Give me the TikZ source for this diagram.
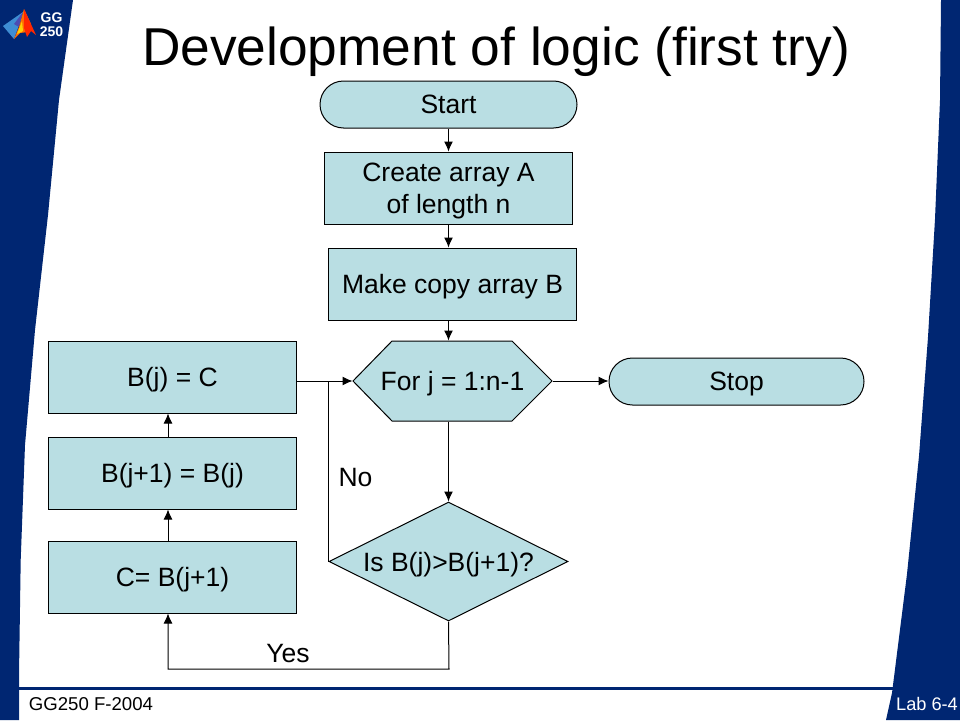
\documentclass[tikz,border=0pt]{standalone}
\usepackage{fontspec}
\setmainfont{Liberation Sans}
\usetikzlibrary{arrows.meta,shapes.geometric,shapes.misc}
\definecolor{bandblue}{HTML}{002672}
\definecolor{boxfill}{HTML}{B9DEE3}
\tikzset{%
box/.style={draw=black,fill=boxfill,line width=1pt,minimum width=248pt,minimum height=72pt,inner sep=0pt,text depth=0pt,font=\fontsize{26.5}{32}\selectfont,align=center},
terminal/.style={box,rounded rectangle,minimum height=47pt},
arr/.style={draw=black,line width=1pt,-{Latex[length=10pt,width=9pt]}},
link/.style={draw=black,line width=1pt},
}
\begin{document}
\begin{tikzpicture}[x=1pt,y=-1pt]
\useasboundingbox (0,0) rectangle (960,720);
%% bands;
\fill[bandblue] (0,0) -- (73,0) -- (59,100) -- (48,215) -- (35,330) -- (25,445) -- (20.7,560) -- (19,675) -- (19,720) -- (0,720) -- cycle;
\fill[bandblue] (960,0) -- (941,0) -- (940,100) -- (935,219) -- (928,337) -- (919,456) -- (907,574) -- (892,693) -- (886,720) -- (960,720) -- cycle;
\fill[bandblue] (19,686.5) rectangle (895,690);
%% logo;
\fill[cyan!60!blue!80] (3,26) -- (23,12) -- (18,28) -- (14,39) -- cycle;
\fill[blue!40!gray] (14,24) -- (23,12) -- (19,27) -- cycle;
\fill[orange!85!red] (14,39) -- (19,27) -- (24,9) -- (31,24) -- (28,32) -- (20,33) -- cycle;
\fill[red!70!orange] (24,9) -- (36,35) -- (31,31) -- (27,37) -- (24,28) -- cycle;
\fill[yellow!70!orange] (17,34) -- (22,21) -- (23,31) -- cycle;
%% title and footers;
\node (title) at (496,52) {\fontsize{53.3}{60}\selectfont Development of logic (first try)};
\node[text=white,font=\bfseries\fontsize{14}{14}\selectfont,align=center] (logotext) at (51.5,25) {GG\\250};
\node (course) at (91,704) {\fontsize{18.6}{22}\selectfont GG250 F-2004};
\node[text=white] (lab) at (927,704) {\fontsize{18.2}{22}\selectfont Lab 6-4};
%% hexagon;
\draw[fill=boxfill,draw=black,line width=1pt] (353,381) -- (392,341) -- (512,341) -- (552,381) -- (512,421) -- (392,421) -- cycle;
%% boxes;
\node[terminal,minimum width=257pt] (start) at (448.5,104.5) {Start};
\node[box] (create) at (448.5,188) {Create array A\\of length n};
\node[box] (makecopy) at (452.5,284) {Make copy array B};
\node[box,draw=none,fill=none,minimum width=199pt,minimum height=80pt] (forj) at (452.5,381) {For j = 1:n-1};
\node[terminal,minimum width=255pt] (stop) at (736.5,381.5) {Stop};
\node[box,diamond,aspect=2,minimum width=239pt,minimum height=119pt] (isb) at (448.5,561.5) {Is B(j)>B(j+1)?};
\node[box] (bjc) at (172.5,377) {B(j) = C};
\node[box] (bjb) at (172.5,473) {B(j+1) = B(j)};
\node[box] (cb) at (172.5,577) {C= B(j+1)};
%% labels;
\node[font=\fontsize{26.5}{30}\selectfont] (nolabel) at (355.5,478) {No};
\node[font=\fontsize{26.5}{30}\selectfont] (yeslabel) at (288,654) {Yes};
%% connectors;
\coordinate (corner) at (449,669);
\coordinate (upline) at (168,669);
\draw[arr] (start.south) -- (create.north);
\draw[arr] (create.south) -- (create.south |- makecopy.north);
\draw[arr] (create.south |- makecopy.south) -- (create.south |- forj.north);
\draw[arr] (create.south |- forj.south) -- (isb.north);
\draw[arr] (forj.east) -- (stop.west |- forj.east);
\draw[arr] (bjc.east |- forj.west) -- (forj.west);
\draw[link] (isb.west) -- (isb.west |- forj.west);
\draw[arr] (isb.south) -- (corner) -- (upline) -- (upline |- cb.south);
\draw[arr] (upline |- cb.north) -- (upline |- bjb.south);
\draw[arr] (upline |- bjb.north) -- (upline |- bjc.south);
\end{tikzpicture}
\end{document}
